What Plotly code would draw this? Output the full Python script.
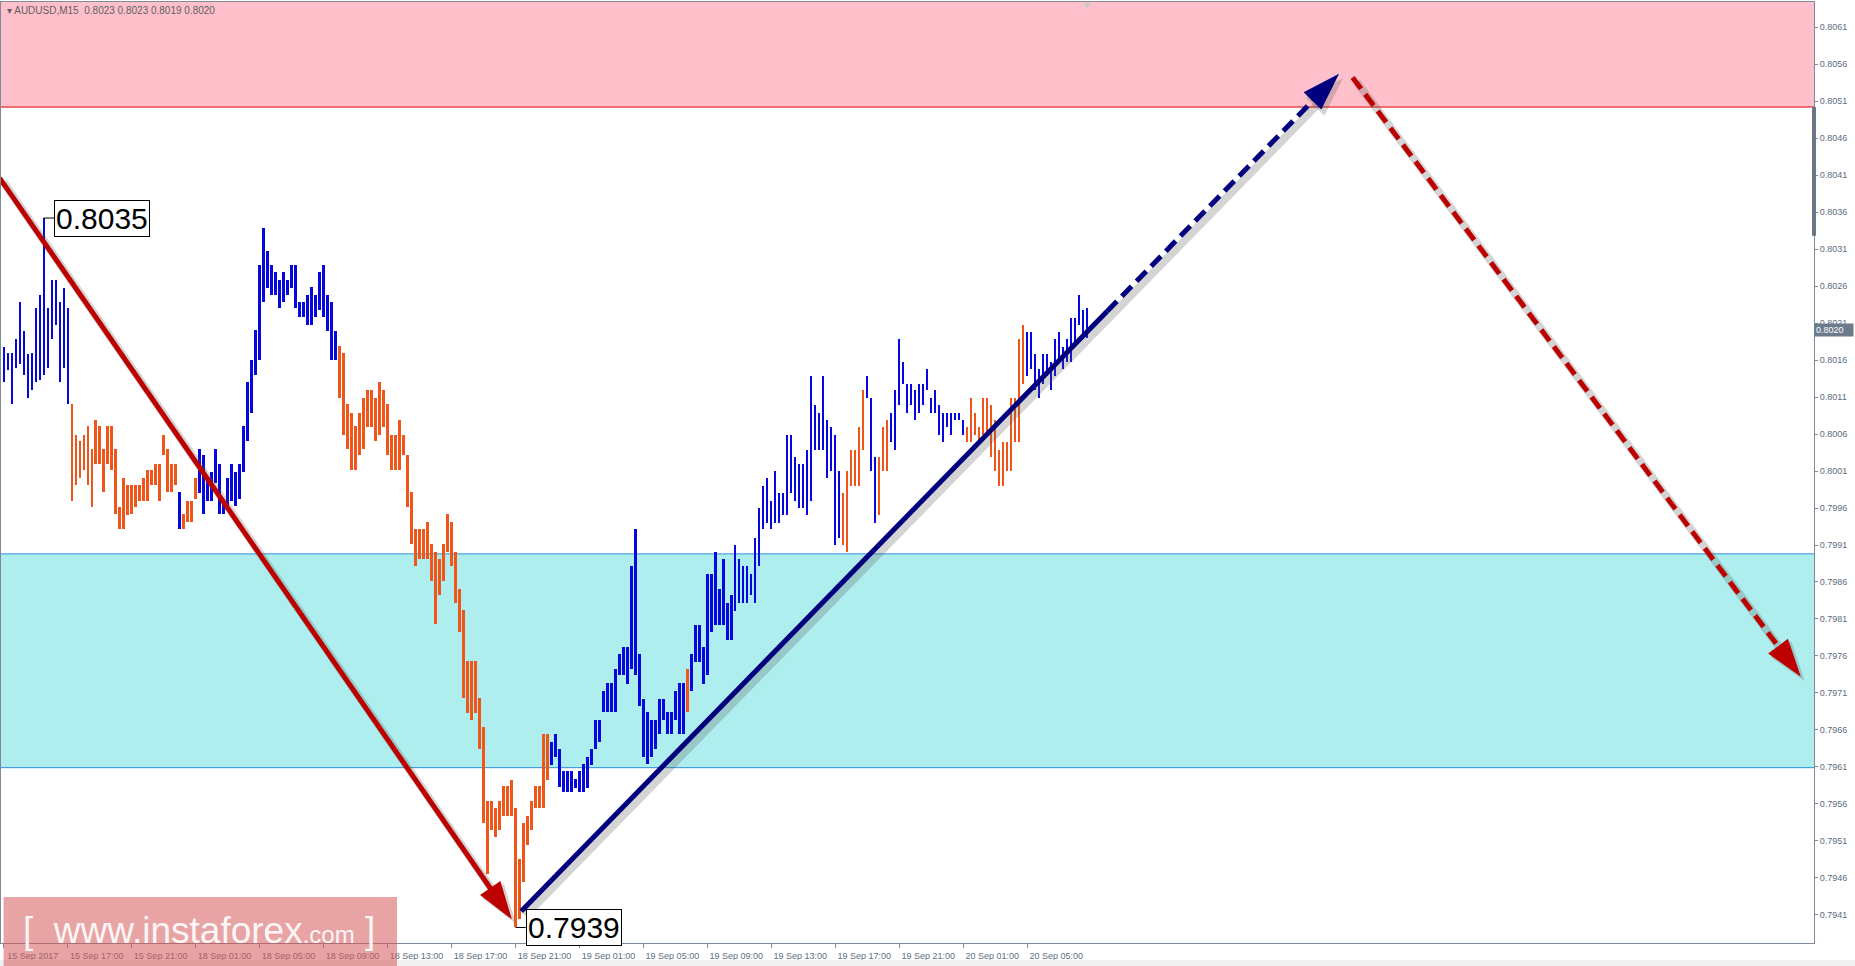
import numpy as np
import plotly.graph_objects as go

# AUDUSD M15 bars, bar index 0 = first bar on screen (15 Sep 2017 13:00)
symbol = "AUDUSD,M15"
last_ohlc = [0.8023, 0.8023, 0.8019, 0.8020]

bar_high = [
    0.80177, 0.80169, 0.80169, 0.80189, 0.80238, 0.80199, 0.80168, 0.80169, 0.80230, 0.80248,
    0.80352, 0.80230, 0.80268, 0.80268, 0.80239, 0.80258, 0.80230, 0.80100, 0.80059, 0.80050,
    0.80059, 0.80071, 0.80040, 0.80079, 0.80071, 0.80040, 0.80071, 0.80071, 0.80040, 0.79961,
    0.80001, 0.79991, 0.79991, 0.79991, 0.79991, 0.80001, 0.80011, 0.80011, 0.80020, 0.80020,
    0.80059, 0.80040, 0.80020, 0.80020, 0.79981, 0.79952, 0.79970, 0.79970, 0.80001, 0.80040,
    0.80031, 0.80000, 0.80009, 0.80040, 0.80020, 0.79970, 0.80000, 0.80020, 0.80009, 0.80020,
    0.80071, 0.80130, 0.80160, 0.80200, 0.80289, 0.80338, 0.80308, 0.80289, 0.80279, 0.80268,
    0.80279, 0.80268, 0.80289, 0.80289, 0.80239, 0.80239, 0.80248, 0.80259, 0.80248, 0.80279,
    0.80289, 0.80248, 0.80239, 0.80199, 0.80179, 0.80169, 0.80100, 0.80089, 0.80071, 0.80089,
    0.80109, 0.80119, 0.80119, 0.80109, 0.80130, 0.80119, 0.80100, 0.80059, 0.80059, 0.80079,
    0.80059, 0.80031, 0.79981, 0.79932, 0.79932, 0.79932, 0.79941, 0.79911, 0.79900, 0.79891,
    0.79911, 0.79952, 0.79941, 0.79900, 0.79851, 0.79822, 0.79753, 0.79753, 0.79753, 0.79703,
    0.79664, 0.79564, 0.79564, 0.79554, 0.79564, 0.79584, 0.79584, 0.79593, 0.79554, 0.79485,
    0.79534, 0.79544, 0.79564, 0.79584, 0.79584, 0.79654, 0.79654, 0.79644, 0.79654, 0.79634,
    0.79605, 0.79605, 0.79605, 0.79594, 0.79605, 0.79614, 0.79624, 0.79634, 0.79673, 0.79673,
    0.79713, 0.79723, 0.79723, 0.79743, 0.79762, 0.79772, 0.79772, 0.79881, 0.79931, 0.79762,
    0.79702, 0.79684, 0.79673, 0.79673, 0.79702, 0.79702, 0.79684, 0.79684, 0.79713, 0.79723,
    0.79723, 0.79743, 0.79762, 0.79802, 0.79802, 0.79772, 0.79871, 0.79871, 0.79901, 0.79851,
    0.79891, 0.79832, 0.79842, 0.79910, 0.79891, 0.79881, 0.79881, 0.79871, 0.79920, 0.79960,
    0.79990, 0.80000, 0.79970, 0.80010, 0.79980, 0.79980, 0.80059, 0.80059, 0.80029, 0.80020,
    0.80020, 0.80039, 0.80138, 0.80099, 0.80089, 0.80138, 0.80079, 0.80069, 0.80059, 0.80010,
    0.79980, 0.80010, 0.80039, 0.80039, 0.80069, 0.80119, 0.80138, 0.80109, 0.80029, 0.80029,
    0.80069, 0.80079, 0.80089, 0.80119, 0.80188, 0.80158, 0.80128, 0.80128, 0.80119, 0.80128,
    0.80128, 0.80148, 0.80109, 0.80119, 0.80099, 0.80089, 0.80089, 0.80089, 0.80089, 0.80089,
    0.80079, 0.80069, 0.80109, 0.80089, 0.80069, 0.80109, 0.80109, 0.80099, 0.80079, 0.80039,
    0.80049, 0.80049, 0.80109, 0.80109, 0.80188, 0.80208, 0.80198, 0.80198, 0.80168, 0.80148,
    0.80168, 0.80168, 0.80158, 0.80188, 0.80198, 0.80178, 0.80188, 0.80217, 0.80217, 0.80248,
    0.80227, 0.80230,
]

bar_low = [
    0.80130, 0.80146, 0.80100, 0.80149, 0.80155, 0.80140, 0.80109, 0.80119, 0.80130, 0.80133,
    0.80140, 0.80149, 0.80189, 0.80208, 0.80130, 0.80149, 0.80100, 0.79970, 0.79991, 0.80001,
    0.80012, 0.79991, 0.79961, 0.80020, 0.80020, 0.79981, 0.80020, 0.80011, 0.79952, 0.79932,
    0.79932, 0.79950, 0.79952, 0.79961, 0.79970, 0.79970, 0.79970, 0.79991, 0.79991, 0.79970,
    0.80031, 0.79981, 0.79981, 0.79991, 0.79932, 0.79932, 0.79941, 0.79941, 0.79972, 0.79980,
    0.79952, 0.79970, 0.79970, 0.79994, 0.79952, 0.79952, 0.79960, 0.79970, 0.79963, 0.79972,
    0.80009, 0.80050, 0.80089, 0.80140, 0.80160, 0.80239, 0.80258, 0.80248, 0.80248, 0.80230,
    0.80239, 0.80248, 0.80258, 0.80230, 0.80218, 0.80218, 0.80208, 0.80208, 0.80218, 0.80228,
    0.80218, 0.80199, 0.80160, 0.80160, 0.80109, 0.80059, 0.80040, 0.80011, 0.80011, 0.80031,
    0.80040, 0.80069, 0.80069, 0.80050, 0.80059, 0.80069, 0.80031, 0.80011, 0.80011, 0.80011,
    0.80031, 0.79961, 0.79911, 0.79881, 0.79891, 0.79891, 0.79891, 0.79862, 0.79803, 0.79842,
    0.79862, 0.79900, 0.79881, 0.79832, 0.79792, 0.79703, 0.79683, 0.79674, 0.79683, 0.79634,
    0.79534, 0.79465, 0.79525, 0.79515, 0.79525, 0.79544, 0.79544, 0.79544, 0.79393, 0.79404,
    0.79455, 0.79505, 0.79525, 0.79554, 0.79554, 0.79554, 0.79593, 0.79613, 0.79623, 0.79583,
    0.79576, 0.79576, 0.79576, 0.79581, 0.79576, 0.79576, 0.79581, 0.79613, 0.79634, 0.79644,
    0.79684, 0.79684, 0.79684, 0.79684, 0.79734, 0.79734, 0.79722, 0.79743, 0.79734, 0.79693,
    0.79624, 0.79614, 0.79624, 0.79634, 0.79654, 0.79673, 0.79654, 0.79654, 0.79673, 0.79654,
    0.79654, 0.79684, 0.79713, 0.79752, 0.79752, 0.79722, 0.79734, 0.79792, 0.79802, 0.79802,
    0.79802, 0.79782, 0.79782, 0.79821, 0.79832, 0.79832, 0.79832, 0.79842, 0.79832, 0.79881,
    0.79931, 0.79940, 0.79931, 0.79940, 0.79940, 0.79950, 0.79950, 0.79980, 0.79970, 0.79960,
    0.79960, 0.79950, 0.79970, 0.80039, 0.80039, 0.80039, 0.80000, 0.80010, 0.79910, 0.79920,
    0.79910, 0.79901, 0.79990, 0.79990, 0.79990, 0.80039, 0.80109, 0.80010, 0.79940, 0.79950,
    0.80010, 0.80010, 0.80049, 0.80039, 0.80099, 0.80128, 0.80089, 0.80099, 0.80079, 0.80089,
    0.80099, 0.80119, 0.80089, 0.80089, 0.80059, 0.80049, 0.80069, 0.80059, 0.80079, 0.80079,
    0.80059, 0.80049, 0.80049, 0.80059, 0.80049, 0.80059, 0.80059, 0.80029, 0.80010, 0.79990,
    0.79990, 0.80010, 0.80010, 0.80049, 0.80049, 0.80128, 0.80138, 0.80148, 0.80119, 0.80109,
    0.80128, 0.80138, 0.80119, 0.80138, 0.80158, 0.80148, 0.80158, 0.80158, 0.80178, 0.80208,
    0.80188, 0.80190,
]

# wave colouring: first bar of each segment and its direction
seg_start = [0, 17, 44, 45, 49, 84, 137, 171, 172, 210, 216, 219, 222, 241, 256]
seg_dir = ["up", "down", "up", "down", "up", "down", "up", "down",
           "up", "down", "up", "down", "up", "down", "up"]

time_labels = [
    "15 Sep 2017", "15 Sep 17:00", "15 Sep 21:00", "18 Sep 01:00", "18 Sep 05:00",
    "18 Sep 09:00", "18 Sep 13:00", "18 Sep 17:00", "18 Sep 21:00", "19 Sep 01:00",
    "19 Sep 05:00", "19 Sep 09:00", "19 Sep 13:00", "19 Sep 17:00", "19 Sep 21:00",
    "20 Sep 01:00", "20 Sep 05:00",
]
bars_per_label = 16

price_ticks = [
    0.7941, 0.7946, 0.7951, 0.7956, 0.7961, 0.7966, 0.7971, 0.7976, 0.7981,
    0.7986, 0.7991, 0.7996, 0.8001, 0.8006, 0.8011, 0.8016, 0.8021, 0.8026,
    0.8031, 0.8036, 0.8041, 0.8046, 0.8051, 0.8056, 0.8061,
]

# zones
sell_zone = [0.80502, 0.80644]
buy_zone = [0.79609, 0.79898]

# wave lines (bar index, price)
wave_down_x = [-1.0, 127.1]
wave_down_y = [0.80406, 0.79404]
wave_up_x = [129.45, 276.0]
wave_up_y = [0.79415, 0.80226]
fcst_up_x = [276.0, 334.0]
fcst_up_y = [0.80226, 0.80547]
fcst_down_x = [337.4, 449.5]
fcst_down_y = [0.80542, 0.79732]

UP_COL = "#0606DE"
DOWN_COL = "#F0561A"
RED = "#BC0000"
NAVY = "#00007E"
AXIS_COL = "#7d8a97"
LABEL_COL = "#5d6d7e"
FONT = "Liberation Sans, Arial, sans-serif"

x_range = [-0.675, 452.8]
y_range = [0.79372, 0.80644]

# per-bar colour from wave segments
n = len(bar_high)
colors = []
for i in range(n):
    k = max(j for j, s in enumerate(seg_start) if s <= i)
    colors.append(UP_COL if seg_dir[k] == "up" else DOWN_COL)

x = np.arange(n)
hi = np.array(bar_high)
lo = np.array(bar_low)

fig = go.Figure()

fig.add_trace(go.Bar(
    x=x, y=hi - lo, base=lo, width=0.58,
    marker=dict(color=colors, line=dict(width=0)),
    hoverinfo="skip",
))

# shadows under the wave lines
sdx, sdy = 1.0, -0.00006
SHADOW = "rgba(90,90,90,0.26)"
for wx, wy, arrow in [(wave_down_x, wave_down_y, True), (wave_up_x, wave_up_y, False),
                      (fcst_up_x, fcst_up_y, True), (fcst_down_x, fcst_down_y, True)]:
    fig.add_trace(go.Scatter(
        x=[v + sdx for v in wx], y=[v + sdy for v in wy],
        mode="lines+markers" if arrow else "lines",
        line=dict(color=SHADOW, width=8),
        marker=dict(symbol="arrow", size=[0, 42], angleref="previous", color=SHADOW,
                    opacity=1, line=dict(width=0)),
        hoverinfo="skip",
    ))


def wave(wx, wy, color, dash=None, arrow=True):
    fig.add_trace(go.Scatter(
        x=wx, y=wy,
        mode="lines+markers" if arrow else "lines",
        line=dict(color=color, width=5, dash=dash),
        marker=dict(symbol="arrow", size=[0, 40], angleref="previous", color=color,
                    opacity=1, line=dict(width=0)),
        hoverinfo="skip",
    ))


wave(wave_down_x, wave_down_y, RED)
wave(wave_up_x, wave_up_y, NAVY, arrow=False)
wave(fcst_up_x, fcst_up_y, NAVY, dash="14px,7px")
wave(fcst_down_x, fcst_down_y, RED, dash="14px,7px")

# extreme price labels
label_gap = 2.6
hi_i = int(np.argmax(hi))
lo_i = int(np.argmin(lo))
for idx, price in [(hi_i, hi[hi_i]), (lo_i, lo[lo_i])]:
    fig.add_trace(go.Scatter(
        x=[idx, idx + label_gap], y=[price, price], mode="lines",
        line=dict(color="black", width=1), hoverinfo="skip",
    ))
    fig.add_annotation(
        x=idx + label_gap, y=price, text=f"{price:.4f}", showarrow=False,
        xanchor="left", yanchor="middle", bgcolor="white",
        bordercolor="black", borderwidth=1, borderpad=1,
        font=dict(family=FONT, size=30, color="black"),
    )

# shift marker at top
fig.add_trace(go.Scatter(
    x=[n - 1], y=[y_range[1] - 0.00004], mode="markers", cliponaxis=False,
    marker=dict(symbol="triangle-down", size=7, color="#c8c8c8"), hoverinfo="skip",
))

shapes = [
    dict(type="rect", xref="paper", yref="y", x0=0, x1=1, y0=sell_zone[0], y1=sell_zone[1],
         fillcolor="#FFC0CB", line=dict(width=0), layer="below"),
    dict(type="line", xref="paper", yref="y", x0=0, x1=1, y0=sell_zone[0], y1=sell_zone[0],
         line=dict(color="#E00000", width=1), layer="below"),
    dict(type="rect", xref="paper", yref="y", x0=0, x1=1, y0=buy_zone[0], y1=buy_zone[1],
         fillcolor="#AFEEEE", line=dict(width=0), layer="below"),
    dict(type="line", xref="paper", yref="y", x0=0, x1=1, y0=buy_zone[0], y1=buy_zone[0],
         line=dict(color="#2B8FDC", width=1), layer="below"),
    dict(type="line", xref="paper", yref="y", x0=0, x1=1, y0=buy_zone[1], y1=buy_zone[1],
         line=dict(color="#2B8FDC", width=1), layer="below"),
    # gray strip on the price scale
    dict(type="line", xref="paper", yref="y", x0=1, x1=1, y0=0.80328, y1=0.80502,
         line=dict(color="#6b7785", width=4)),
    # bottom strip of the window
    dict(type="rect", xref="paper", yref="paper", x0=-0.01, x1=1.03, y0=-0.0245, y1=-0.0181,
         fillcolor="#f0f0f0", line=dict(width=0)),
    # watermark plate
    dict(type="rect", xref="paper", yref="paper", x0=0.0014, x1=0.2184, y0=-0.0245, y1=0.0489,
         fillcolor="rgba(214,90,90,0.55)", line=dict(width=0), layer="above"),
]

annotations = [
    dict(xref="paper", yref="paper", x=0.0022, y=0.9905, xanchor="left", yanchor="middle",
         text="▾ " + symbol + "  " + " ".join(f"{v:.4f}" for v in last_ohlc),
         showarrow=False, font=dict(family=FONT, size=10, color="#606060")),
    dict(xref="paper", yref="y", x=1, y=last_ohlc[3], xanchor="left", yanchor="middle",
         text=f"{last_ohlc[3]:.4f}", showarrow=False, bgcolor="#6b7b8b", borderpad=1,
         width=36, align="left", font=dict(family=FONT, size=9, color="white")),
    dict(xref="paper", yref="paper", x=0.1092, y=0.0128, xanchor="center", yanchor="middle",
         text="[&nbsp;&nbsp;www.instaforex<span style='font-size:24px'>.com</span>&nbsp;]",
         showarrow=False, font=dict(family=FONT, size=37, color="rgba(255,255,255,0.92)")),
]

fig.update_layout(
    width=1855, height=966,
    margin=dict(l=1, r=41, t=2, b=23),
    paper_bgcolor="white", plot_bgcolor="white",
    showlegend=False, bargap=0,
    shapes=shapes,
    xaxis=dict(
        range=x_range, showgrid=False, zeroline=False,
        tickvals=[k * bars_per_label for k in range(len(time_labels))], ticktext=time_labels,
        ticks="outside", ticklen=4, tickcolor=AXIS_COL,
        showline=True, linecolor=AXIS_COL, mirror=True,
        ticklabelshift=29,
        tickfont=dict(family=FONT, size=9, color=LABEL_COL),
    ),
    yaxis=dict(
        range=y_range, side="right", showgrid=False, zeroline=False,
        tickvals=price_ticks, ticktext=[f"{v:.4f}" for v in price_ticks],
        ticks="outside", ticklen=3, tickcolor=AXIS_COL,
        showline=True, linecolor=AXIS_COL, mirror=True,
        tickfont=dict(family=FONT, size=9, color=LABEL_COL),
    ),
)
for a in annotations:
    fig.add_annotation(**a)

fig.write_html("out.html", config={"displayModeBar": False},
               post_script="document.body.style.margin='0';document.body.style.overflow='hidden';")
